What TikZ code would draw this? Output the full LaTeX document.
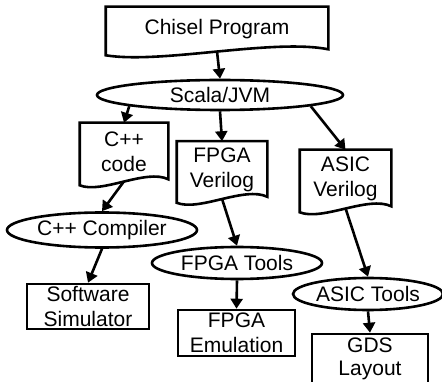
\documentclass[tikz,border=0pt]{standalone}
\usepackage{fontspec}
\setmainfont{Liberation Sans}
\usetikzlibrary{shapes.geometric,arrows.meta,calc}

% outline of a document box with wavy bottom
\newcommand{\docwave}[1]{%
  \draw ([yshift=-4pt]#1.south west) -- (#1.north west) -- (#1.north east) -- ([yshift=2pt]#1.south east)
    .. controls ($(#1.south)!0.5!(#1.south east)+(0,13pt)$) and ($(#1.south)!0.5!(#1.south west)+(0,-13pt)$) .. ([yshift=-4pt]#1.south west) -- cycle;}

\begin{document}
\begin{tikzpicture}[
  x=1pt, y=-1pt, line width=2.6pt,
  every node/.style={font=\fontsize{21}{25}\selectfont},
  docbox/.style={inner sep=0pt, align=center},
  oval/.style={draw, ellipse, inner sep=0pt},
  blk/.style={draw, rectangle, inner sep=0pt, align=center},
  arr/.style={-{Triangle[length=10pt,width=12pt]}}
]
  \useasboundingbox (0,0) rectangle (442,382);
  \node[docbox, minimum width=220pt, minimum height=42pt] (chisel) at (217,29)   {Chisel Program};
  \node[oval,   minimum width=246pt, minimum height=30pt] (scala)  at (220,95)   {Scala/JVM};
  \node[docbox, minimum width=86pt,  minimum height=56pt] (cpp)    at (124,152)  {C++\\code};
  \node[docbox, minimum width=88pt,  minimum height=55pt] (fpgav)  at (222,170)  {FPGA\\Verilog};
  \node[docbox, minimum width=89pt,  minimum height=56pt] (asicv)  at (345.5,179) {ASIC\\Verilog};
  \node[oval,   minimum width=190pt, minimum height=35pt] (cppc)   at (102,230)  {C++ Compiler};
  \node[oval,   minimum width=170pt, minimum height=32pt] (fpgat)  at (237,263)  {FPGA Tools};
  \node[oval,   minimum width=150pt, minimum height=32pt] (asict)  at (368,294)  {ASIC Tools};
  \node[blk,    minimum width=122pt, minimum height=45pt] (sim)    at (88,306.5) {Software\\Simulator};
  \node[blk,    minimum width=117pt, minimum height=46pt] (fpgae)  at (236.5,333) {FPGA\\Emulation};
  \node[blk,    minimum width=116pt, minimum height=50pt,
        font=\fontsize{21}{23}\selectfont]               (gds)    at (370,359)  {GDS\\Layout};
  \docwave{chisel}
  \docwave{cpp}
  \docwave{fpgav}
  \docwave{asicv}
  \draw[arr] (chisel.south) -- (scala.north);
  \draw[arr] (scala.187) -- (cpp.north);
  \draw[arr] (scala.south) -- (fpgav.north);
  \draw[arr] (scala.353) -- (asicv.north);
  \draw[arr] (cpp.south) -- (cppc.north);
  \draw[arr] (fpgav.south) -- (fpgat.north);
  \draw[arr] (asicv.south) -- (asict.north);
  \draw[arr] (cppc.south) -- (sim.north);
  \draw[arr] (fpgat.south) -- (fpgae.north);
  \draw[arr] (asict.south) -- (gds.north);
\end{tikzpicture}
\end{document}
